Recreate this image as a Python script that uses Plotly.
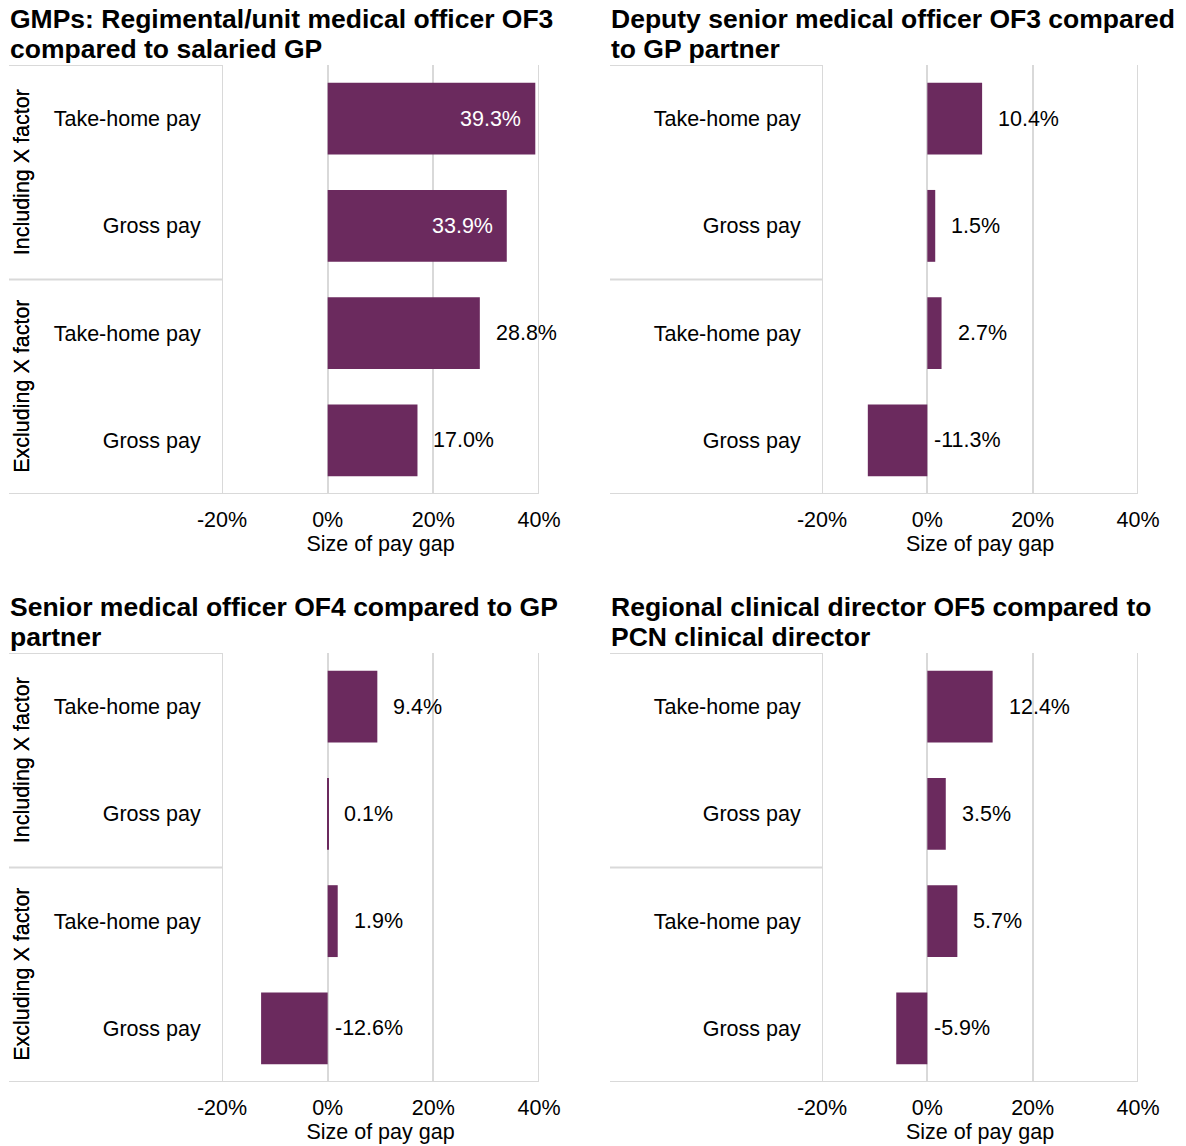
import plotly.graph_objects as go

W, H = 1186, 1146

title_lines = [
    ["GMPs: Regimental/unit medical officer OF3", "compared to salaried GP"],
    ["Deputy senior medical officer OF3 compared", "to GP partner"],
    ["Senior medical officer OF4 compared to GP", "partner"],
    ["Regional clinical director OF5 compared to", "PCN clinical director"],
]
categories = ["Take-home pay", "Gross pay", "Take-home pay", "Gross pay"]
groups = ["Including X factor", "Excluding X factor"]
values_p1 = [39.3, 33.9, 28.8, 17.0]
values_p2 = [10.4, 1.5, 2.7, -11.3]
values_p3 = [9.4, 0.1, 1.9, -12.6]
values_p4 = [12.4, 3.5, 5.7, -5.9]
panel_values = [values_p1, values_p2, values_p3, values_p4]
x_tickvals = [-20, 0, 20, 40]
x_ticktext = ["-20%", "0%", "20%", "40%"]
x_title = "Size of pay gap"

BAR = "#6B2A5E"
GRID = "#D9D9D9"
FONT = "Liberation Sans, Arial, sans-serif"
FS = 21.5

# pixel layout per panel: (left edge of panel, plot x0, plot x1, title line1 center, plot y0, plot y1)
panels = [
    (9, 222, 539, 19, 65, 494),
    (610, 822, 1138, 19, 65, 494),
    (9, 222, 539, 607, 653, 1082),
    (610, 822, 1138, 607, 653, 1082),
]

fig = go.Figure()
layout = dict(
    width=W, height=H, margin=dict(l=0, r=0, t=0, b=0, autoexpand=False),
    paper_bgcolor="white", plot_bgcolor="white", showlegend=False,
    font=dict(family=FONT, size=FS, color="#000000"),
)
annotations = []
shapes = []
ypos = list(range(len(categories)))

for i, (vals, tlines, (px0, x0, x1, ty, y0, y1)) in enumerate(zip(panel_values, title_lines, panels)):
    n = "" if i == 0 else str(i + 1)
    xa, ya = "x" + n, "y" + n
    fig.add_trace(go.Bar(
        x=vals, y=ypos, orientation="h", width=0.67,
        marker=dict(color=BAR, line=dict(width=0)),
        xaxis=xa, yaxis=ya, hoverinfo="skip",
    ))
    layout["xaxis" + n] = dict(
        domain=[x0 / W, x1 / W], anchor=ya, range=[x_tickvals[0], x_tickvals[-1]],
        tickvals=x_tickvals, ticktext=x_ticktext, showgrid=True,
        gridcolor=GRID, gridwidth=2, zeroline=True, zerolinecolor=GRID,
        zerolinewidth=2, showline=False, ticks="outside", ticklen=6,
        tickcolor="rgba(0,0,0,0)", tickfont=dict(size=FS), automargin=False,
        title=dict(text=x_title, font=dict(size=FS), standoff=2),
        fixedrange=True,
    )
    layout["yaxis" + n] = dict(
        domain=[1 - y1 / H, 1 - y0 / H], anchor=xa, range=[3.5, -0.5],
        tickvals=ypos, ticktext=categories, showgrid=False, zeroline=False,
        showline=False, ticks="outside", ticklen=16, tickcolor="rgba(0,0,0,0)",
        tickfont=dict(size=FS), automargin=False, fixedrange=True,
    )
    # edge gridlines (plotly hides grid lines lying on the plot edges)
    for xv in (x_tickvals[0], x_tickvals[-1]):
        shapes.append(dict(type="line", xref=xa, yref=ya + " domain", x0=xv, x1=xv,
                           y0=0, y1=1, line=dict(color=GRID, width=2), layer="below"))
    # title (two lines)
    for li, line in enumerate(tlines):
        annotations.append(dict(
            text="<b>" + line + "</b>", x=(px0 - 1) / W, y=1 - (ty + li * 30) / H,
            xref="paper", yref="paper", xanchor="left", yanchor="middle",
            showarrow=False, align="left",
            font=dict(size=26.5, family=FONT, color="#000000"),
        ))
    # group labels
    for g, label in enumerate(groups):
        annotations.append(dict(
            text=label, x=22 / W, y=g * 2 + 0.5, xref="paper", yref=ya,
            xanchor="center", yanchor="middle", textangle=-90, showarrow=False,
            font=dict(size=FS, family=FONT, color="#000000"),
        ))
    # separators in category area
    for yy in (-0.5, 1.5):
        shapes.append(dict(type="line", xref="paper", yref=ya, x0=px0 / W, x1=x0 / W,
                           y0=yy, y1=yy, line=dict(color=GRID, width=2)))
    shapes.append(dict(type="line", xref="paper", yref=ya, x0=px0 / W, x1=x1 / W,
                       y0=3.5, y1=3.5, line=dict(color=GRID, width=2)))
    # data labels
    for k, v in enumerate(vals):
        txt = f"{v:.1f}%"
        if v > 30:
            annotations.append(dict(
                text=txt, x=v, y=k, xref=xa, yref=ya, xanchor="right", yanchor="middle",
                xshift=-12, showarrow=False, font=dict(size=FS, color="white", family=FONT),
            ))
        else:
            annotations.append(dict(
                text=txt, x=max(v, 0), y=k, xref=xa, yref=ya, xanchor="left",
                yanchor="middle", xshift=14 if v >= 0 else 5, showarrow=False,
                font=dict(size=FS, color="#000000", family=FONT),
            ))

layout["annotations"] = annotations
layout["shapes"] = shapes
fig.update_layout(**layout)
fig.write_html("out.html")
